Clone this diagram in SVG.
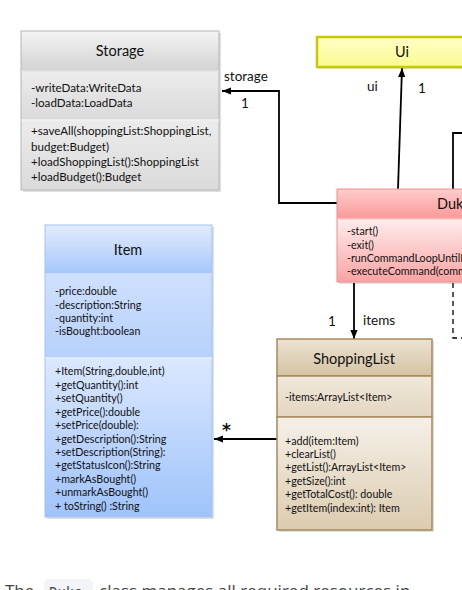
<svg xmlns="http://www.w3.org/2000/svg" width="462" height="590" viewBox="0 0 462 590">
<defs>
<linearGradient id="gHdrGray" x1="0" y1="0" x2="0" y2="1"><stop offset="0" stop-color="#f4f4f4"/><stop offset="1" stop-color="#d2d2d2"/></linearGradient>
<linearGradient id="gBodyGray" x1="0" y1="0" x2="0" y2="1"><stop offset="0" stop-color="#ececec"/><stop offset="1" stop-color="#dadada"/></linearGradient>
<linearGradient id="gHdrBlue" x1="0" y1="0" x2="0" y2="1"><stop offset="0" stop-color="#e2ecfd"/><stop offset="1" stop-color="#a6c7fb"/></linearGradient>
<linearGradient id="gAttrBlue" x1="0" y1="0" x2="0" y2="1"><stop offset="0" stop-color="#cfe0fd"/><stop offset="1" stop-color="#b6d1fb"/></linearGradient>
<linearGradient id="gMethBlue" x1="0" y1="0" x2="0" y2="1"><stop offset="0" stop-color="#dbe8fe"/><stop offset="1" stop-color="#9fc3fa"/></linearGradient>
<linearGradient id="gHdrPink" x1="0" y1="0" x2="0" y2="1"><stop offset="0" stop-color="#ffcccc"/><stop offset="1" stop-color="#f99999"/></linearGradient>
<linearGradient id="gBodyPink" x1="0" y1="0" x2="0" y2="1"><stop offset="0" stop-color="#ffecec"/><stop offset="1" stop-color="#f9a3a3"/></linearGradient>
<linearGradient id="gHdrTan" x1="0" y1="0" x2="0" y2="1"><stop offset="0" stop-color="#ece3d3"/><stop offset="1" stop-color="#d5c3a2"/></linearGradient>
<linearGradient id="gAttrTan" x1="0" y1="0" x2="0" y2="1"><stop offset="0" stop-color="#f0e9dc"/><stop offset="1" stop-color="#e3d6c0"/></linearGradient>
<linearGradient id="gMethTan" x1="0" y1="0" x2="0" y2="1"><stop offset="0" stop-color="#f5f0e8"/><stop offset="1" stop-color="#dcccb0"/></linearGradient>
<linearGradient id="gYellow" x1="0" y1="0" x2="0" y2="1"><stop offset="0" stop-color="#ffffc8"/><stop offset="1" stop-color="#fafa90"/></linearGradient>
<marker id="arr" viewBox="0 0 10 10" refX="10" refY="5" markerWidth="9" markerHeight="9" markerUnits="userSpaceOnUse" orient="auto"><path d="M0,1 L10,5 L0,9 z" fill="#000"/></marker>
</defs>
<style>
text{font-family:Lato,"Liberation Sans",sans-serif;fill:#111}
.t{font-size:14.5px}
.m{font-size:10.7px}
.ms{font-size:11.6px}
.lbl{font-size:13.5px}
.shadow{fill:#000;opacity:0.12}
.ln{fill:none;stroke:#000;stroke-width:1.8}
.dash{fill:none;stroke:#000;stroke-width:1.3;stroke-dasharray:5,4}
.cap{font-family:"Open Sans","Liberation Sans",sans-serif;font-size:17px;fill:#444}
</style>
<rect width="462" height="590" fill="#fff"/>

<g id="connectors">
<polyline class="ln" points="337,203 279,203 279,91 222,91" marker-end="url(#arr)"/>
<line class="ln" x1="398" y1="189" x2="402" y2="68" marker-end="url(#arr)"/>
<polyline class="ln" points="453,189 453,133 462,133"/>
<line class="ln" x1="354" y1="283" x2="354" y2="339" marker-end="url(#arr)"/>
<line class="ln" x1="277" y1="439" x2="214" y2="439" marker-end="url(#arr)"/>
<polyline class="dash" points="453,283 453,338 462,338"/>
<text class="lbl" x="224" y="81">storage</text>
<text class="lbl" x="241" y="108">1</text>
<text class="lbl" x="367" y="91">ui</text>
<text class="lbl" x="418" y="93">1</text>
<text class="lbl" x="328" y="326">1</text>
<text class="lbl" x="363" y="325">items</text>
<text x="222" y="436" style="font-family:'DejaVu Sans',sans-serif;font-size:17px;font-weight:bold">*</text>
</g>

<g id="storage">
<rect class="shadow" x="23" y="33" width="198" height="159"/>
<rect x="21" y="31" width="198" height="40" fill="url(#gHdrGray)" stroke="#b5b5b5"/>
<rect x="21" y="71" width="198" height="49" fill="url(#gBodyGray)" stroke="#b5b5b5"/>
<rect x="21" y="120" width="198" height="70" fill="url(#gBodyGray)" stroke="#b5b5b5"/>
<line x1="21" y1="120" x2="219" y2="120" stroke="#fafafa" stroke-width="1.5"/>
<line x1="21" y1="71" x2="219" y2="71" stroke="#fafafa" stroke-width="1"/>
<text class="t" x="120" y="56" text-anchor="middle">Storage</text>
<text class="ms" x="31" y="92">-writeData:WriteData</text>
<text class="ms" x="31" y="107">-loadData:LoadData</text>
<text class="ms" x="31" y="135">+saveAll(shoppingList:ShoppingList,</text>
<text class="ms" x="31" y="151">budget:Budget)</text>
<text class="ms" x="31" y="166">+loadShoppingList():ShoppingList</text>
<text class="ms" x="31" y="181">+loadBudget():Budget</text>
</g>

<g id="ui">
<rect class="shadow" x="319" y="39" width="150" height="30"/>
<rect x="317" y="37" width="150" height="30" fill="url(#gYellow)" stroke="#c9c900" stroke-width="2.5"/>
<text class="t" x="402" y="57" text-anchor="middle">Ui</text>
</g>

<g id="duke">
<rect class="shadow" x="339" y="191" width="130" height="93"/>
<rect x="337" y="189" width="130" height="30" fill="url(#gHdrPink)" stroke="#f08c8c"/>
<rect x="337" y="219" width="130" height="63" fill="url(#gBodyPink)" stroke="#f08c8c"/>
<line x1="337" y1="219" x2="467" y2="219" stroke="#ffe6e6" stroke-width="1"/>
<text class="t" x="437" y="209">Duke</text>
<text class="m" x="347" y="235">-start()</text>
<text class="m" x="347" y="249">-exit()</text>
<text class="m" x="347" y="262">-runCommandLoopUntilExitCommand()</text>
<text class="m" x="347" y="275">-executeCommand(command:Command)</text>
</g>

<g id="item">
<rect class="shadow" x="47" y="227" width="167" height="292"/>
<rect x="45" y="225" width="167" height="49" fill="url(#gHdrBlue)" stroke="#9ec1f5"/>
<rect x="45" y="274" width="167" height="84" fill="url(#gAttrBlue)" stroke="#9ec1f5"/>
<rect x="45" y="358" width="167" height="159" fill="url(#gMethBlue)" stroke="#9ec1f5"/>
<line x1="45" y1="274" x2="212" y2="274" stroke="#e8f0fe" stroke-width="1"/>
<line x1="45" y1="358" x2="212" y2="358" stroke="#eef4fe" stroke-width="1.5"/>
<text class="t" x="128" y="255" text-anchor="middle">Item</text>
<text class="m" x="55" y="295">-price:double</text>
<text class="m" x="55" y="309">-description:String</text>
<text class="m" x="55" y="322">-quantity:int</text>
<text class="m" x="55" y="335">-isBought:boolean</text>
<text class="m" x="55" y="375">+Item(String,double,int)</text>
<text class="m" x="55" y="389">+getQuantity():int</text>
<text class="m" x="55" y="402">+setQuantity()</text>
<text class="m" x="55" y="416">+getPrice():double</text>
<text class="m" x="55" y="429">+setPrice(double):</text>
<text class="m" x="55" y="443">+getDescription():String</text>
<text class="m" x="55" y="456">+setDescription(String):</text>
<text class="m" x="55" y="469">+getStatusIcon():String</text>
<text class="m" x="55" y="483">+markAsBought()</text>
<text class="m" x="55" y="496">+unmarkAsBought()</text>
<text class="m" x="55" y="510">+ toString() :String</text>
</g>

<g id="shoppinglist">
<rect class="shadow" x="279" y="341" width="155" height="191"/>
<rect x="277" y="339" width="155" height="37" fill="url(#gHdrTan)" stroke="#a58a5c" stroke-width="1.5"/>
<rect x="277" y="376" width="155" height="41" fill="url(#gAttrTan)" stroke="#a58a5c" stroke-width="1.5"/>
<rect x="277" y="417" width="155" height="113" fill="url(#gMethTan)" stroke="#a58a5c" stroke-width="1.5"/>
<text class="t" x="354" y="364" text-anchor="middle">ShoppingList</text>
<text class="m" x="285" y="401">-items:ArrayList&lt;Item&gt;</text>
<text class="m" x="285" y="445">+add(item:Item)</text>
<text class="m" x="285" y="458">+clearList()</text>
<text class="m" x="285" y="471">+getList():ArrayList&lt;Item&gt;</text>
<text class="m" x="285" y="485">+getSize():int</text>
<text class="m" x="285" y="498">+getTotalCost(): double</text>
<text class="m" x="285" y="512">+getItem(index:int): Item</text>
</g>

<g id="caption">
<rect x="44" y="579" width="49" height="20" rx="5" fill="#f2f4f7"/>
<text class="cap" x="5" y="597">The</text>
<text x="49" y="597" style="font-family:'Liberation Mono',monospace;font-size:14px;fill:#444">Duke</text>
<text class="cap" x="99" y="597">class manages all required resources in</text>
</g>
</svg>
